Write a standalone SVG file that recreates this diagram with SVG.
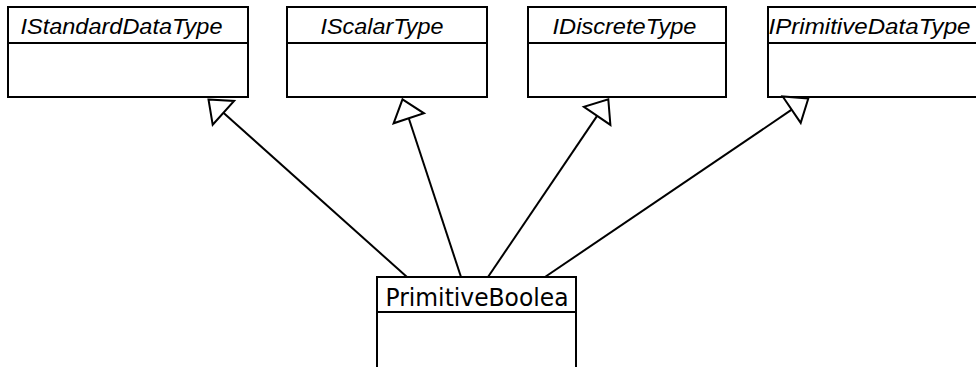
<svg xmlns="http://www.w3.org/2000/svg" width="976" height="367" viewBox="0 0 976 367">
<style>
.box{fill:#fff;stroke:#000;stroke-width:2}
.div{stroke:#000;stroke-width:2}
.ti{font-family:"Liberation Sans",Arial,sans-serif;font-style:italic;font-size:22px;fill:#000}
.tn{font-family:"DejaVu Sans",sans-serif;font-size:25px;fill:#000}
.ln{stroke:#000;stroke-width:2;fill:none}
.ah{fill:#fff;stroke:#000;stroke-width:2;stroke-linejoin:miter}
</style>
<rect width="976" height="367" fill="#fff"/>
<g id="IStandardDataType">
<rect class="box" x="8" y="7" width="240" height="90"/>
<line class="div" x1="8" y1="43" x2="249" y2="43"/>
<text class="ti" x="20.5" y="34" textLength="202" lengthAdjust="spacingAndGlyphs">IStandardDataType</text>
</g>
<g id="IScalarType">
<rect class="box" x="287" y="7" width="200" height="90"/>
<line class="div" x1="287" y1="43" x2="488" y2="43"/>
<text class="ti" x="320.5" y="34" textLength="123" lengthAdjust="spacingAndGlyphs">IScalarType</text>
</g>
<g id="IDiscreteType">
<rect class="box" x="528" y="7" width="198" height="90"/>
<line class="div" x1="528" y1="43" x2="727" y2="43"/>
<text class="ti" x="552.5" y="34" textLength="144" lengthAdjust="spacingAndGlyphs">IDiscreteType</text>
</g>
<g id="IPrimitiveDataType">
<rect class="box" x="768" y="7" width="230" height="90"/>
<line class="div" x1="768" y1="43" x2="998" y2="43"/>
<text class="ti" x="768.5" y="34" textLength="202" lengthAdjust="spacingAndGlyphs">IPrimitiveDataType</text>
</g>
<g id="PrimitiveBoolean">
<rect class="box" x="377" y="277" width="199" height="110"/>
<line class="div" x1="377" y1="312" x2="577" y2="312"/>
<text class="tn" x="385.5" y="306" textLength="183" lengthAdjust="spacingAndGlyphs">PrimitiveBoolea</text>
</g>
<g id="connectors">
<line class="ln" x1="407" y1="277" x2="223.4" y2="112.8"/>
<polygon class="ah" points="208.5,99.5 234.1,100.9 212.7,124.7"/>
<line class="ln" x1="461" y1="277" x2="408.75" y2="118.3"/>
<polygon class="ah" points="402.5,99.3 424,113.3 393.6,123.3"/>
<line class="ln" x1="488" y1="277" x2="597.1" y2="115.9"/>
<polygon class="ah" points="608.3,99.3 610.4,124.9 583.9,106.9"/>
<line class="ln" x1="545" y1="277" x2="791.7" y2="109.7"/>
<polygon class="ah" points="808.3,98.5 800.7,122.9 782.7,96.5"/>
</g>
</svg>
